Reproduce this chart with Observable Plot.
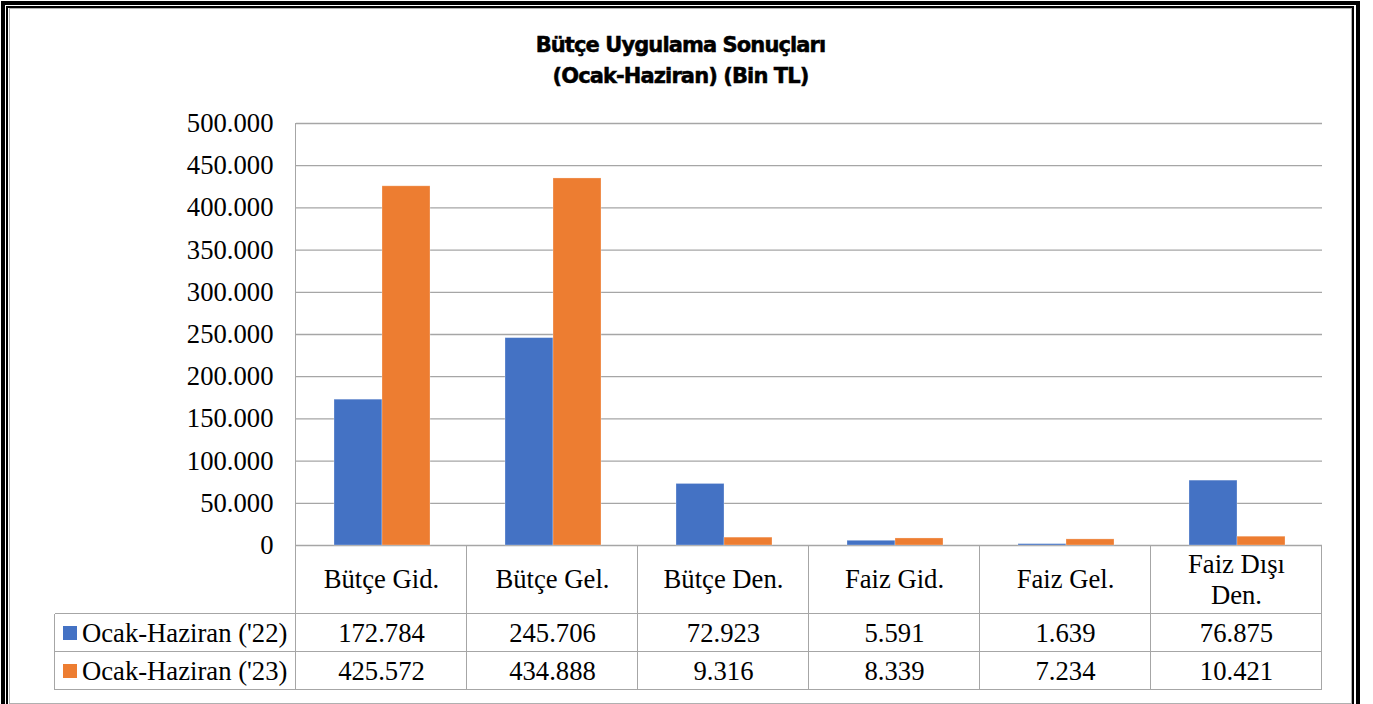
<!DOCTYPE html>
<html>
<head>
<meta charset="utf-8">
<script src="https://cdn.jsdelivr.net/npm/d3@7"></script>
<script src="https://cdn.jsdelivr.net/npm/@observablehq/plot@0.6"></script>
<style>
  html, body { margin: 0; padding: 0; background: #fff; }
  #wrap { position: relative; width: 1373px; height: 704px; overflow: hidden; background: #fff; }
  #wrap svg { position: absolute; left: 0; top: 0; }
  .abs { position: absolute; box-sizing: border-box; }
  .title { position: absolute; left: 9px; width: 1343px; text-align: center;
    font-family: "DejaVu Sans", sans-serif;
    font-weight: bold; font-size: 21px; letter-spacing: -0.9px; -webkit-text-stroke: 0.5px #000;
    color: #000; white-space: nowrap; }
  .cell { position: absolute; box-sizing: border-box; display: flex; align-items: center; justify-content: center;
    text-align: center; font-family: "Liberation Serif", "Times New Roman", serif; font-size: 26.67px; color: #000; line-height: 31px; }
  .hl { position: absolute; height: 0; border-top: 1.3px solid #a6a6a6; }
  .vl { position: absolute; width: 0; border-left: 1.3px solid #a6a6a6; }
</style>
</head>
<body>
<div id="wrap"></div>
<script>
const categories = ["Bütçe Gid.", "Bütçe Gel.", "Bütçe Den.", "Faiz Gid.", "Faiz Gel.", "Faiz Dışı Den."];
const seriesNames = ["Ocak-Haziran ('22)", "Ocak-Haziran ('23)"];
const values22 = [172784, 245706, 72923, 5591, 1639, 76875];
const values23 = [425572, 434888, 9316, 8339, 7234, 10421];
const seriesColors = ["#4472C4", "#ED7D31"];
const yTicks = [0, 50000, 100000, 150000, 200000, 250000, 300000, 350000, 400000, 450000, 500000];
const titleLines = ["Bütçe Uygulama Sonuçları", "(Ocak-Haziran) (Bin TL)"];

const seriesValues = [values22, values23];
const data = categories.flatMap((c, i) => seriesNames.map((s, j) => ({cat: c, series: s, value: seriesValues[j][i]})));

const locale = d3.formatLocale({decimal: ",", thousands: ".", grouping: [3], currency: ["", ""]});
const fmt = locale.format(",");

const W = 1373, H = 704;
const chart = Plot.plot({
  width: W, height: H,
  marginTop: 123, marginBottom: 159, marginLeft: 295, marginRight: 50,
  style: {background: "transparent", fontFamily: "'Liberation Serif','Times New Roman',serif", fontSize: "26.67px", color: "#000", overflow: "visible"},
  fx: {domain: categories, padding: 0, axis: null, label: null},
  x: {domain: seriesNames, paddingInner: 0, paddingOuter: 0.766, axis: null, label: null},
  y: {domain: [0, 500000], ticks: yTicks, tickFormat: fmt, tickSize: 0, tickPadding: 23, label: null},
  color: {domain: seriesNames, range: seriesColors},
  marks: [
    Plot.ruleY(yTicks, {stroke: "#a6a6a6", strokeWidth: 1.3}),
    Plot.barY(data, {fx: "cat", x: "series", y: "value", fill: "series", stroke: "#ffffff", strokeOpacity: 0.35, strokeWidth: 0.8})
  ]
});

const wrap = document.getElementById("wrap");
wrap.appendChild(chart);

const fxs = chart.scale("fx");
const ys = chart.scale("y");
const bw = fxs.bandwidth;
const left0 = fxs.apply(categories[0]);
const right0 = fxs.apply(categories[categories.length - 1]) + bw;
const yTop = ys.apply(500000);
const yZero = ys.apply(0);
const row1H = 69, rowH = 38;
const legendLeft = 55;
const rowY = [yZero, yZero + row1H, yZero + row1H + rowH, yZero + row1H + 2 * rowH];

function add(cls, style, html) {
  const d = document.createElement("div");
  d.className = cls;
  Object.assign(d.style, style);
  if (html != null) d.innerHTML = html;
  wrap.appendChild(d);
  return d;
}

// title
titleLines.forEach((t, i) => add("title", {top: (30 + i * 31) + "px", lineHeight: "30px"}, t));

// table text
categories.forEach((c, i) => {
  const x = fxs.apply(c);
  add("cell", {left: x + "px", top: rowY[0] + "px", width: bw + "px", height: row1H + "px", padding: "0 12px"}, c);
  seriesValues.forEach((vals, j) => {
    add("cell", {left: x + "px", top: rowY[j + 1] + "px", width: bw + "px", height: rowH + "px"}, fmt(vals[i]));
  });
});
seriesNames.forEach((s, j) => {
  const c = add("cell", {left: legendLeft + "px", top: rowY[j + 1] + "px", width: (left0 - legendLeft) + "px", height: rowH + "px", justifyContent: "flex-start", paddingLeft: "8px", whiteSpace: "nowrap"}, "");
  const sw = document.createElement("span");
  Object.assign(sw.style, {display: "inline-block", width: "14px", height: "14px", background: seriesColors[j], marginRight: "5px"});
  c.appendChild(sw);
  c.appendChild(document.createTextNode(s));
});

// table lines
add("vl", {left: (left0 - 0.65) + "px", top: yTop + "px", height: (rowY[3] - yTop) + "px"});
categories.forEach((c, i) => {
  if (i > 0) add("vl", {left: (fxs.apply(c) - 0.65) + "px", top: rowY[0] + "px", height: (rowY[3] - rowY[0]) + "px"});
});
add("vl", {left: (right0 - 0.65) + "px", top: rowY[0] + "px", height: (rowY[3] - rowY[0]) + "px"});
add("vl", {left: (legendLeft - 0.65) + "px", top: rowY[1] + "px", height: (rowY[3] - rowY[1]) + "px"});
[1, 2, 3].forEach(k => add("hl", {left: legendLeft + "px", top: (rowY[k] - 0.65) + "px", width: (right0 - legendLeft) + "px"}));

// frame borders
add("abs", {left: "1px", top: "1px", width: "1359px", height: "760px", border: "4px solid #000"});
add("abs", {left: "6px", top: "6px", width: "1348px", height: "750px", border: "2px solid #000"});
add("abs", {left: "9px", top: "8px", width: "1343px", height: "696px", border: "1px solid #b0b0b0"});
</script>
</body>
</html>
